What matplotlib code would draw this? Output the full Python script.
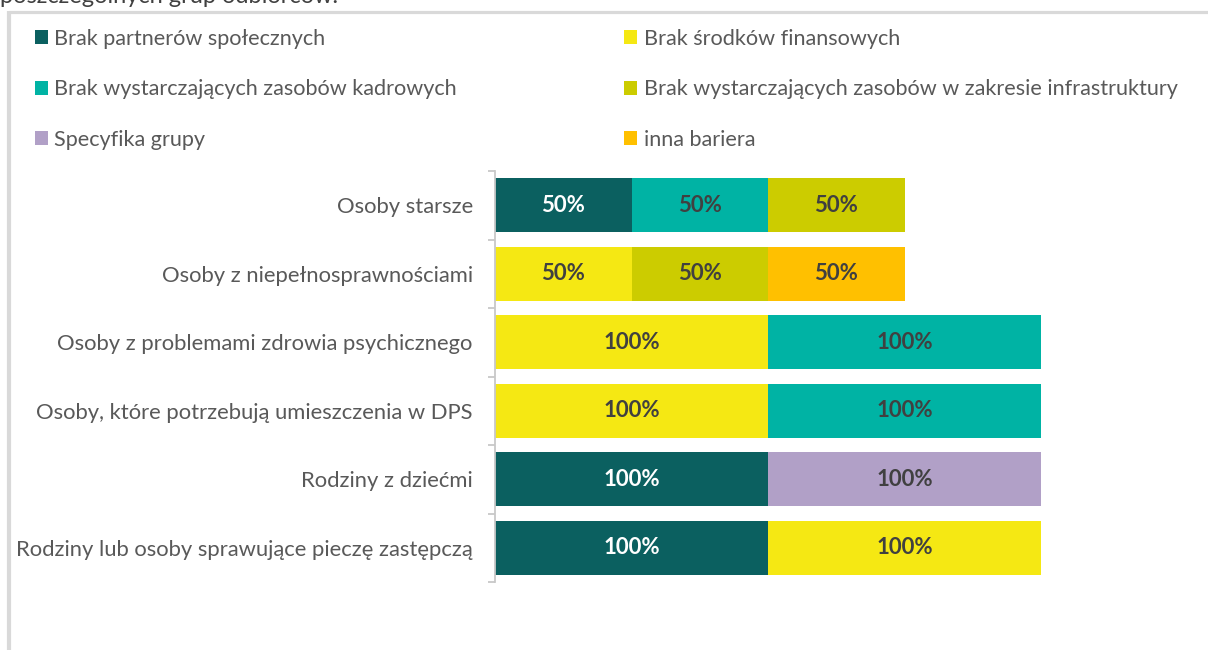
import numpy as np
import matplotlib
matplotlib.use('Agg')
import matplotlib.pyplot as plt
from matplotlib.patches import Patch
from matplotlib.lines import Line2D

plt.rcParams['font.family'] = ['Lato', 'DejaVu Sans']

# Grupy odbiorców (od góry do dołu)
grupy = ['Osoby starsze',
         'Osoby z niepełnosprawnościami',
         'Osoby z problemami zdrowia psychicznego',
         'Osoby, które potrzebują umieszczenia w DPS',
         'Rodziny z dziećmi',
         'Rodziny lub osoby sprawujące pieczę zastępczą']

bariery = ['Brak partnerów społecznych',
           'Brak środków finansowych',
           'Brak wystarczających zasobów kadrowych',
           'Brak wystarczających zasobów w zakresie infrastruktury',
           'Specyfika grupy',
           'inna bariera']

# Odsetki wskazań [%]
partnerzy = [50, 0, 0, 0, 100, 100]
finanse = [0, 50, 100, 100, 0, 100]
kadry = [50, 0, 100, 100, 0, 0]
infrastruktura = [50, 50, 0, 0, 0, 0]
specyfika = [0, 0, 0, 0, 100, 0]
inna = [0, 50, 0, 0, 0, 0]

dane = [partnerzy, finanse, kadry, infrastruktura, specyfika, inna]
kolory = ['#0B6060', '#F5E813', '#00B3A4', '#CCCC00', '#B1A0C7', '#FFC000']
kolory_etykiet = ['white', '#404040', '#404040', '#404040', '#404040', '#404040']

W, H = 1208, 650
fig = plt.figure(figsize=(W / 100, H / 100), dpi=100)

# obszar wykresu w pikselach
left, right, top, bottom = 495, 1191, 171, 582
ax = fig.add_axes([left / W, 1 - bottom / H, (right - left) / W, (bottom - top) / H])

y = np.arange(len(grupy))
start = np.zeros(len(grupy))
for seria, kolor, kol_et in zip(dane, kolory, kolory_etykiet):
    seria = np.array(seria, dtype=float)
    bars = ax.barh(y, seria, left=start, height=0.79, color=kolor)
    etykiety = [f'{v:.0f}%' if v > 0 else '' for v in seria]
    ax.bar_label(bars, labels=etykiety, label_type='center', color=kol_et,
                 fontsize=16, fontweight='bold')
    start += seria

ax.set_xlim(0, (right - left) / 2.73)
ax.set_ylim(len(grupy) - 0.5, -0.5)

ax.set_yticks(y)
ax.set_yticklabels(grupy, fontsize=15.8, color='#595959')
ax.set_yticks(np.arange(len(grupy) + 1) - 0.5, minor=True)
ax.tick_params(axis='y', which='major', length=0, pad=16)
ax.tick_params(axis='y', which='minor', length=5, width=1.3, color='#C8C8C8')
ax.set_xticks([])
for s in ['top', 'right', 'bottom']:
    ax.spines[s].set_visible(False)
ax.spines['left'].set_color('#C8C8C8')
ax.spines['left'].set_linewidth(1.3)

# legenda w dwóch kolumnach
uchwyty = [Patch(facecolor=k, edgecolor='none') for k in kolory]
opcje = dict(loc='upper left', frameon=False, fontsize=15.6, borderpad=0, borderaxespad=0,
             handlelength=0.6, handleheight=0.6, handletextpad=0.3,
             labelspacing=1.4, labelcolor='#595959', bbox_transform=fig.transFigure)
leg1 = fig.legend(uchwyty[0::2], bariery[0::2], bbox_to_anchor=(35 / W, 1 - 29 / H), **opcje)
leg2 = fig.legend(uchwyty[1::2], bariery[1::2], bbox_to_anchor=(624 / W, 1 - 29 / H), **opcje)

# fragment tytułu nad ramką
fig.text(0, 1 - 3 / H, 'poszczególnych grup odbiorców.', fontsize=17,
         color='#404040', va='baseline', ha='left')

# ramka obszaru wykresu
rama = '#D9D9D9'
fig.add_artist(Line2D([9 / W, 9 / W], [1 - 11 / H, 0], transform=fig.transFigure,
                      color=rama, linewidth=3, solid_capstyle='butt'))
fig.add_artist(Line2D([9 / W, 1], [1 - 11.5 / H, 1 - 11.5 / H], transform=fig.transFigure,
                      color=rama, linewidth=2.3, solid_capstyle='butt'))

fig.savefig('out.png', dpi=100)
